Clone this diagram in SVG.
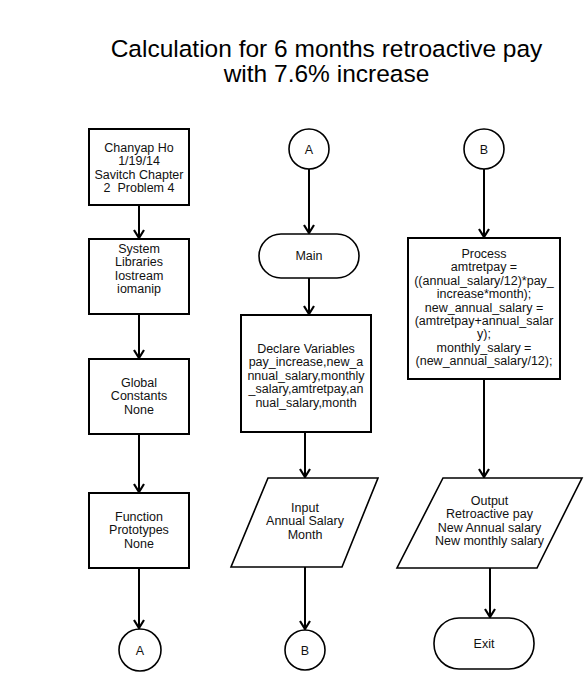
<svg xmlns="http://www.w3.org/2000/svg" width="585" height="690" viewBox="0 0 585 690">
<defs>
<style>
.b{fill:#fff;stroke:#000;stroke-width:2}
.c{fill:#fff;stroke:#000;stroke-width:1.6}
.t{font-family:"Liberation Sans",Arial,sans-serif;font-size:12.5px;fill:#111;text-anchor:middle}
.h{font-family:"Liberation Sans",Arial,sans-serif;font-size:24.5px;fill:#000;text-anchor:middle}
.e{fill:none;stroke:#000;stroke-width:2}
</style>
<marker id="ar" viewBox="-11 -7 13 14" refX="0" refY="0" markerWidth="13" markerHeight="14" markerUnits="userSpaceOnUse" orient="auto">
<path d="M -8 -5 L 0 0 L -8 5" fill="none" stroke="#000" stroke-width="2.2"/>
</marker>
</defs>
<rect width="585" height="690" fill="#fff"/>
<g id="title">
<text class="h" x="326.5" y="57">Calculation for 6 months retroactive pay</text>
<text class="h" x="326.5" y="82">with 7.6% increase</text>
</g>
<g id="connectors">
<line class="e" x1="139" y1="205" x2="139" y2="238" marker-end="url(#ar)"/>
<line class="e" x1="139" y1="314" x2="139" y2="358" marker-end="url(#ar)"/>
<line class="e" x1="139" y1="434" x2="139" y2="492" marker-end="url(#ar)"/>
<line class="e" x1="139" y1="568" x2="139" y2="628" marker-end="url(#ar)"/>
<line class="e" x1="309" y1="169" x2="309" y2="233" marker-end="url(#ar)"/>
<line class="e" x1="309" y1="278" x2="309" y2="314" marker-end="url(#ar)"/>
<line class="e" x1="305" y1="432" x2="305" y2="477" marker-end="url(#ar)"/>
<line class="e" x1="305" y1="567" x2="305" y2="629" marker-end="url(#ar)"/>
<line class="e" x1="484" y1="169" x2="484" y2="237" marker-end="url(#ar)"/>
<line class="e" x1="484" y1="379" x2="484" y2="477" marker-end="url(#ar)"/>
<line class="e" x1="490" y1="568" x2="490" y2="617" marker-end="url(#ar)"/>
</g>
<g id="header">
<rect class="b" x="89" y="129" width="100" height="76"/>
<text class="t" x="139" y="152">Chanyap Ho</text>
<text class="t" x="139" y="165.4">1/19/14</text>
<text class="t" x="139" y="178.8">Savitch Chapter</text>
<text class="t" x="139" y="192.2" xml:space="preserve">2  Problem 4</text>
</g>
<g id="libraries">
<rect class="b" x="89" y="239" width="100" height="75"/>
<text class="t" x="139" y="253">System</text>
<text class="t" x="139" y="266.4">Libraries</text>
<text class="t" x="139" y="279.8">Iostream</text>
<text class="t" x="139" y="293.2">iomanip</text>
</g>
<g id="constants">
<rect class="b" x="89" y="359" width="100" height="75"/>
<text class="t" x="139" y="387">Global</text>
<text class="t" x="139" y="400.4">Constants</text>
<text class="t" x="139" y="413.8">None</text>
</g>
<g id="prototypes">
<rect class="b" x="89" y="493" width="100" height="75"/>
<text class="t" x="139" y="521">Function</text>
<text class="t" x="139" y="534.4">Prototypes</text>
<text class="t" x="139" y="547.8">None</text>
</g>
<g id="connA1">
<circle class="c" cx="140" cy="650" r="21"/>
<text class="t" x="140" y="654.5">A</text>
</g>
<g id="connA2">
<circle class="c" cx="309" cy="149" r="20"/>
<text class="t" x="309" y="153.5">A</text>
</g>
<g id="main">
<rect class="c" x="259" y="234" width="100" height="44" rx="22" ry="22"/>
<text class="t" x="309" y="260">Main</text>
</g>
<g id="declare">
<rect class="b" x="241" y="315" width="130" height="117"/>
<text class="t" x="306" y="353">Declare Variables</text>
<text class="t" x="306" y="366.4">pay_increase,new_a</text>
<text class="t" x="306" y="379.8">nnual_salary,monthly</text>
<text class="t" x="306" y="393.2">_salary,amtretpay,an</text>
<text class="t" x="306" y="406.6">nual_salary,month</text>
</g>
<g id="input">
<polygon class="c" points="268,478 378,478 342,567 231,567"/>
<text class="t" x="305" y="511.5">Input</text>
<text class="t" x="305" y="525">Annual Salary</text>
<text class="t" x="305" y="538.5">Month</text>
</g>
<g id="connB1">
<circle class="c" cx="305" cy="650" r="20"/>
<text class="t" x="305" y="654.5">B</text>
</g>
<g id="connB2">
<circle class="c" cx="484" cy="149" r="20"/>
<text class="t" x="484" y="153.5">B</text>
</g>
<g id="process">
<rect class="b" x="408" y="238" width="152" height="141"/>
<text class="t" x="484" y="258">Process</text>
<text class="t" x="484" y="271.4">amtretpay =</text>
<text class="t" x="484" y="284.8">((annual_salary/12)*pay_</text>
<text class="t" x="484" y="298.2">increase*month);</text>
<text class="t" x="484" y="311.6">new_annual_salary =</text>
<text class="t" x="484" y="325">(amtretpay+annual_salar</text>
<text class="t" x="484" y="338.4">y);</text>
<text class="t" x="484" y="351.8">monthly_salary =</text>
<text class="t" x="484" y="365.2">(new_annual_salary/12);</text>
</g>
<g id="output">
<polygon class="c" points="443,478 582,478 537,568 397,568"/>
<text class="t" x="489.5" y="504.5">Output</text>
<text class="t" x="489.5" y="518">Retroactive pay</text>
<text class="t" x="489.5" y="531.5">New Annual salary</text>
<text class="t" x="489.5" y="545">New monthly salary</text>
</g>
<g id="exit">
<rect class="c" x="434" y="618" width="100" height="51" rx="25" ry="25"/>
<text class="t" x="484" y="648">Exit</text>
</g>
</svg>
